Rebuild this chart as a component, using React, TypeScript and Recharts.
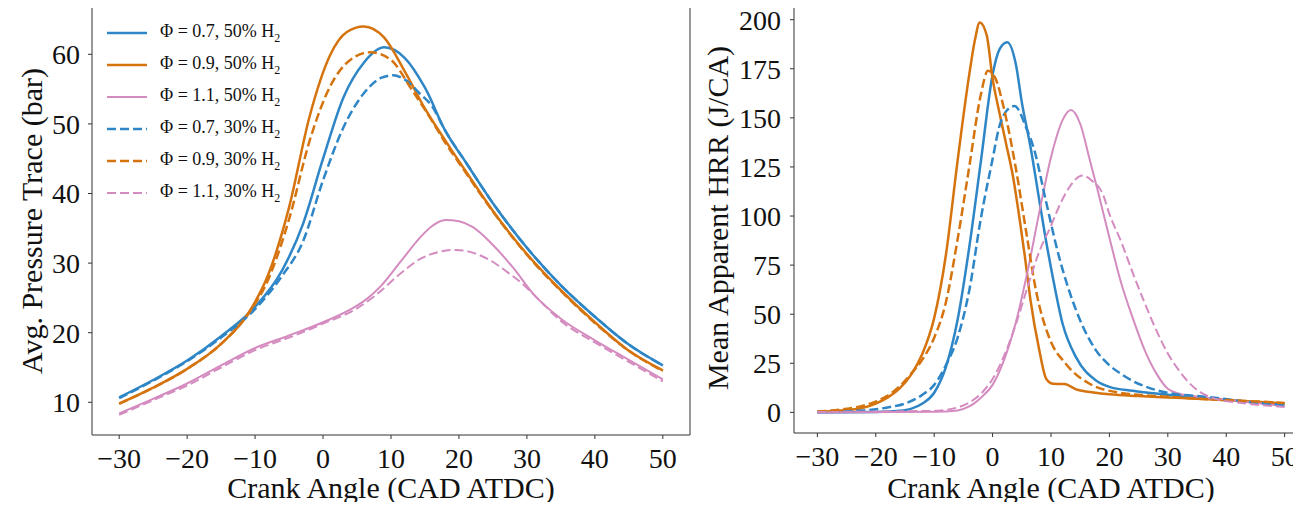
import React from 'react';
import { LineChart, Line, XAxis, YAxis, Legend, CartesianGrid } from 'recharts';

// ---- pressure trace (left panel) ----
const pB50x = [-30, -25, -20, -15, -10, -6, -3, 0, 3, 6, 9, 12, 15, 18, 21, 25, 30, 35, 40, 45, 50];
const pB50 = [10.7, 13.2, 16.0, 19.5, 23.7, 29.0, 35.5, 45.0, 53.8, 58.8, 61.0, 59.5, 55.2, 49.0, 44.5, 38.6, 32.2, 26.8, 22.3, 18.3, 15.3];

const pO50x = [-30, -25, -20, -15, -11, -8, -5, -2, 1, 3.5, 6, 9, 12, 15, 18, 21, 25, 30, 35, 40, 45, 50];
const pO50 = [9.8, 12.1, 14.8, 18.4, 22.8, 28.5, 38.0, 51.0, 59.8, 63.2, 64.0, 62.4, 57.6, 52.2, 47.6, 43.2, 37.5, 31.3, 26.1, 21.5, 17.4, 14.6];

const pP50x = [-30, -25, -20, -15, -10, -5, 0, 4.5, 6.5, 8.5, 11.4, 14.3, 16, 18, 20, 22, 25, 28, 31, 35, 40, 45, 50];
const pP50 = [8.4, 10.5, 12.7, 15.3, 17.8, 19.6, 21.5, 23.6, 24.9, 26.7, 30.2, 33.7, 35.3, 36.2, 36.0, 35.2, 32.6, 29.3, 25.5, 22.0, 18.9, 16.1, 13.3];

const pB30x = [-30, -25, -20, -15, -10, -6, -3, 0, 3, 6, 8.5, 10.3, 12, 14.3, 16, 18, 21, 25, 30, 35, 40, 45, 50];
const pB30 = [10.6, 13.1, 15.9, 19.3, 23.4, 28.2, 33.0, 41.9, 49.5, 54.4, 56.6, 57.0, 56.4, 54.3, 52.6, 49.0, 44.5, 38.6, 32.2, 26.8, 22.3, 18.3, 15.3];

const pO30x = [-30, -25, -20, -15, -11, -8, -5, -2, 1, 4, 7, 10, 13, 16, 18, 21, 25, 30, 35, 40, 45, 50];
const pO30 = [9.8, 12.1, 14.8, 18.4, 22.7, 27.8, 36.3, 47.5, 55.3, 59.2, 60.3, 59.2, 55.0, 50.5, 47.3, 43.0, 37.4, 31.2, 26.0, 21.4, 17.4, 14.5];

const pP30x = [-30, -25, -20, -15, -10, -5, 0, 5, 7.5, 11.4, 14.3, 17, 19.5, 22, 24.6, 27, 29.5, 32, 35, 40, 45, 50];
const pP30 = [8.2, 10.3, 12.4, 15.0, 17.5, 19.3, 21.3, 23.5, 25.2, 28.5, 30.6, 31.6, 31.9, 31.5, 30.4, 28.8, 26.9, 24.5, 21.7, 18.6, 15.8, 13.0];

// ---- apparent heat release rate (right panel) ----
const hB50x = [-30, -20, -16, -14, -12, -10, -8, -6, -4, -2, 0, 1.2, 2.5, 4, 5, 6.5, 8, 9, 10.3, 12, 14.3, 17.7, 20, 24, 30, 35, 40, 45, 50];
const hB50 = [0, 0.2, 0.8, 1.8, 4.5, 10, 23, 47, 84, 128, 172, 185, 188.5, 177, 158, 135, 108, 90, 69, 45, 28, 16.3, 13, 11, 9, 7.5, 6.3, 5.2, 4.2];

const hO50x = [-30, -25, -22, -20, -18, -16, -14, -12, -10, -8, -6, -4, -3, -2.2, -1, 0, 1, 2.3, 3.5, 4.6, 5.5, 6.5, 8, 9.2, 10.3, 12.3, 14.5, 17, 20, 25, 30, 35, 40, 45, 50];
const hO50 = [0.3, 1.2, 2.5, 4.5, 7.5, 12, 19, 30, 48, 80, 128, 172, 190, 198.6, 192, 170, 155, 137, 120, 99, 80, 57, 31.6, 17, 14.6, 14.4, 11.5, 10.3, 9.2, 8.3, 7.6, 6.9, 6.2, 5.4, 4.6];

const hP50x = [-30, -10, -6, -4, -2, 0, 2, 4, 6, 8, 10, 12, 13.4, 15, 16.6, 18, 20, 22, 24, 26, 28, 30, 32, 35, 40, 45, 50];
const hP50 = [0, 0.3, 1, 3, 7.5, 14, 27, 46, 72, 102, 130, 149, 154, 147, 129, 113, 89, 66, 48, 32, 20, 12, 9.5, 8, 6.5, 4.8, 3.2];

const hB30x = [-30, -22, -18, -15, -12, -10, -8, -6, -4, -2, 0, 1.1, 2.5, 3.76, 5.75, 7.2, 9.1, 11.4, 14.3, 17.7, 20, 22.3, 24, 26.8, 30, 37, 45, 50];
const hB30 = [0.3, 1, 2.5, 4.5, 9, 14, 24, 38, 62, 99, 129, 145, 154, 156, 145, 133, 108, 79, 52, 31.6, 24, 19, 16, 12.5, 10, 7.8, 5, 3.8];

const hO30x = [-30, -25, -22, -20, -18, -16, -14, -12, -10, -8, -6, -4, -2, -0.8, 0.5, 2, 4, 5.75, 7.5, 9.7, 12.6, 16.6, 22.3, 30, 35, 40, 45, 50];
const hO30 = [0.5, 1.8, 3.5, 5.5, 8.5, 13, 19.5, 27, 38, 56, 88, 125, 162, 174, 170, 154, 124, 92, 61, 38, 24.5, 14.6, 9.8, 8, 7, 6.3, 5.6, 4.8];

const hP30x = [-30, -10, -6, -4, -2, 0, 2, 4, 6, 8, 10, 11.4, 13, 15.4, 17, 18.9, 20, 22, 24, 26, 28, 30, 32, 34, 36, 38, 42, 50];
const hP30 = [0.2, 0.8, 2.5, 5, 9.5, 17, 29, 45, 64, 82, 95, 105, 114, 120.6, 118, 111, 101, 87, 71, 56, 42, 30, 21, 14, 9.5, 7, 5, 2.8];

const xTicks = [-30, -20, -10, 0, 10, 20, 30, 40, 50];
const pTicks = [10, 20, 30, 40, 50, 60];
const hTicks = [0, 25, 50, 75, 100, 125, 150, 175, 200];
const xDomain = [-34, 54];
const pDomain = [5.3, 66.8];
const hDomain = [-10.5, 208.5];

const BLUE = '#2e86c6';
const ORANGE = '#d5740f';
const PINK = '#d48bbf';
const FONT = 'Liberation Serif, Times New Roman, serif';
const FRAME = '#333';
const INK = '#111';

const pts = (xs: number[], ys: number[]) => xs.map((x, i) => ({ x, y: ys[i] }));

const series = [
  { name: '0.7', h2: '50', color: BLUE, dash: false, p: pts(pB50x, pB50), h: pts(hB50x, hB50) },
  { name: '0.9', h2: '50', color: ORANGE, dash: false, p: pts(pO50x, pO50), h: pts(hO50x, hO50) },
  { name: '1.1', h2: '50', color: PINK, dash: false, p: pts(pP50x, pP50), h: pts(hP50x, hP50) },
  { name: '0.7', h2: '30', color: BLUE, dash: true, p: pts(pB30x, pB30), h: pts(hB30x, hB30) },
  { name: '0.9', h2: '30', color: ORANGE, dash: true, p: pts(pO30x, pO30), h: pts(hO30x, hO30) },
  { name: '1.1', h2: '30', color: PINK, dash: true, p: pts(pP30x, pP30), h: pts(hP30x, hP30) },
];

const minus = (v: number) => String(v).replace('-', '\u2212');
const width = (s: { color: string }) => (s.color === PINK ? 2 : 2.5);

const XTick = (props: any) => (
  <text x={props.x} y={props.y} dy="0.71em" textAnchor="middle" fill={INK} fontSize={28} style={{ fontFamily: FONT }}>
    {minus(props.payload.value)}
  </text>
);

const YTick = (props: any) => (
  <text x={props.x} y={props.y} dy="0.355em" textAnchor="end" fill={INK} fontSize={28} style={{ fontFamily: FONT }}>
    {minus(props.payload.value)}
  </text>
);

const xLabel = (text: string) => (props: any) => {
  const vb = props.viewBox;
  return (
    <text x={vb.x + vb.width / 2} y={vb.y + vb.height - 12} textAnchor="middle" fill={INK} fontSize={30} style={{ fontFamily: FONT }}>
      {text}
    </text>
  );
};

const yLabel = (text: string, cx: number) => (props: any) => {
  const vb = props.viewBox;
  const x = vb.x + cx;
  const y = vb.y + vb.height / 2;
  return (
    <text x={x} y={y} dy="0.35em" textAnchor="middle" transform={`rotate(-90, ${x}, ${y})`} fill={INK} fontSize={30} style={{ fontFamily: FONT }}>
      {text}
    </text>
  );
};

const renderLegend = () => (
  <div style={{ fontFamily: FONT, fontSize: 18, color: INK }}>
    {series.map((s, i) => (
      <div key={i} style={{ height: 32, display: 'flex', alignItems: 'center' }}>
        <svg width={40} height={6} style={{ marginRight: 13 }}>
          <line x1={0} y1={3} x2={40} y2={3} stroke={s.color} strokeWidth={width(s)} strokeDasharray={s.dash ? '9 4' : undefined} />
        </svg>
        <span>
          Φ = {s.name}, {s.h2}% H<sub style={{ fontSize: 12 }}>2</sub>
        </span>
      </div>
    ))}
  </div>
);

// right edge of the box as a grid line at the end of the x domain
const frame = () => <CartesianGrid horizontal={false} verticalValues={[xDomain[1]]} stroke={FRAME} strokeWidth={1} strokeOpacity={1} />;

// the grid drops a line on the top edge, so the top of each box is a thin rule laid over the chart
const topRule = (left: number, top: number, w: number) => (
  <div style={{ position: 'absolute', left, top, width: w, height: 1, background: FRAME, pointerEvents: 'none' }} />
);

const lines = (key: 'p' | 'h') =>
  series.map((s, i) => (
    <Line
      key={i}
      data={s[key]}
      dataKey="y"
      type="monotone"
      stroke={s.color}
      strokeWidth={width(s)}
      strokeDasharray={s.dash ? '9 4' : undefined}
      dot={false}
      isAnimationActive={false}
    />
  ));

const App: React.FC = () => {
  return (
    <div style={{ position: 'relative', margin: -8, width: 1301, height: 510, overflow: 'hidden', background: '#fff', fontFamily: FONT }}>
      <div style={{ position: 'absolute', left: 0, top: 0 }}>
        <LineChart width={700} height={510} margin={{ top: 7, right: 10, left: 0, bottom: 0 }}>
          {frame()}
          <XAxis
            dataKey="x"
            type="number"
            domain={xDomain}
            allowDataOverflow
            ticks={xTicks}
            tick={<XTick />}
            tickSize={4}
            tickMargin={9}
            tickLine={{ stroke: FRAME }}
            axisLine={{ stroke: FRAME }}
            height={75}
            label={{ content: xLabel('Crank Angle (CAD ATDC)') }}
          />
          <YAxis
            dataKey="y"
            type="number"
            domain={pDomain}
            allowDataOverflow
            ticks={pTicks}
            tick={<YTick />}
            tickSize={4}
            tickMargin={8}
            tickLine={{ stroke: FRAME }}
            axisLine={{ stroke: FRAME }}
            width={92}
            label={{ content: yLabel('Avg. Pressure Trace (bar)', 31) }}
          />
          {lines('p')}
          <Legend
            content={renderLegend}
            layout="vertical"
            align="center"
            verticalAlign="middle"
            wrapperStyle={{ position: 'absolute', left: 107, top: 17, width: 'auto' }}
          />
        </LineChart>
      </div>
      <div style={{ position: 'absolute', left: 700, top: 0 }}>
        <LineChart width={700} height={510} margin={{ top: 3, right: 92, left: 0, bottom: 0 }}>
          {frame()}
          <XAxis
            dataKey="x"
            type="number"
            domain={xDomain}
            allowDataOverflow
            ticks={xTicks}
            tick={<XTick />}
            tickSize={4}
            tickMargin={9}
            tickLine={{ stroke: FRAME }}
            axisLine={{ stroke: FRAME }}
            height={77}
            label={{ content: xLabel('Crank Angle (CAD ATDC)') }}
          />
          <YAxis
            dataKey="y"
            type="number"
            domain={hDomain}
            allowDataOverflow
            ticks={hTicks}
            tick={<YTick />}
            tickSize={4}
            tickMargin={9}
            tickLine={{ stroke: FRAME }}
            axisLine={{ stroke: FRAME }}
            width={94}
            label={{ content: yLabel('Mean Apparent HRR (J/CA)', 17) }}
          />
          {lines('h')}
        </LineChart>
      </div>
      {topRule(92, 6, 599)}
      {topRule(794, 2, 514)}
    </div>
  );
};

export default App;
